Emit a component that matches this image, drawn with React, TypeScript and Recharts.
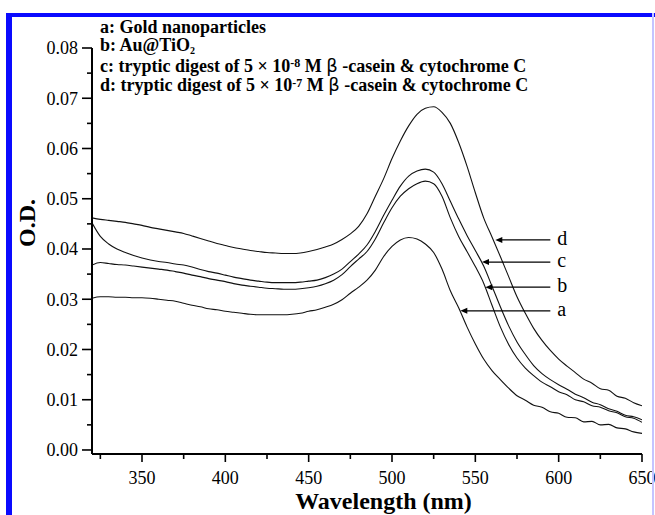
import React from 'react'
import { LineChart, Line, XAxis, YAxis, ReferenceLine } from 'recharts'

// wavelength grid (nm)
const wavelengths = [
  320, 325, 330, 335, 340, 345, 350, 355, 360, 365, 370, 375, 380, 385, 390, 395,
  400, 405, 410, 415, 420, 425, 430, 435, 440, 445, 450, 455, 460, 465, 470, 475,
  480, 485, 490, 495, 500, 505, 510, 515, 520, 525, 530, 535, 540, 545, 550, 555,
  560, 565, 570, 575, 580, 585, 590, 595, 600, 605, 610, 615, 620, 625, 630, 635,
  640, 645, 650,
]

// a: Gold nanoparticles
const seriesA = [
  0.0302, 0.0305, 0.0305, 0.0304, 0.0304, 0.0303, 0.0303, 0.0302, 0.0300, 0.0298, 0.0296, 0.0292, 0.0288, 0.0285, 0.0281, 0.0279,
  0.0276, 0.0274, 0.0272, 0.0270, 0.0269, 0.0269, 0.0269, 0.0269, 0.0270, 0.0272, 0.0276, 0.0279, 0.0284, 0.0290, 0.0299, 0.0312,
  0.0324, 0.0338, 0.0358, 0.0385, 0.0405, 0.0418, 0.0423, 0.0420, 0.0410, 0.0393, 0.0360, 0.0317, 0.0283, 0.0245, 0.0211, 0.0181,
  0.0158, 0.0140, 0.0123, 0.0108, 0.0099, 0.0089, 0.0085, 0.0076, 0.0073, 0.0065, 0.0064, 0.0056, 0.0057, 0.0050, 0.0051, 0.0044,
  0.0042, 0.0036, 0.0033,
]

// b: Au@TiO2
const seriesB = [
  0.0368, 0.0373, 0.0371, 0.0369, 0.0368, 0.0366, 0.0364, 0.0362, 0.0360, 0.0358, 0.0355, 0.0352, 0.0348, 0.0345, 0.0341, 0.0338,
  0.0335, 0.0331, 0.0328, 0.0326, 0.0324, 0.0322, 0.0321, 0.0320, 0.0320, 0.0321, 0.0323, 0.0326, 0.0331, 0.0338, 0.0349, 0.0365,
  0.0380, 0.0395, 0.0420, 0.0452, 0.0482, 0.0505, 0.0520, 0.0530, 0.0535, 0.0530, 0.0505, 0.0462, 0.0425, 0.0395, 0.0365, 0.0332,
  0.0288, 0.0245, 0.0210, 0.0183, 0.0163, 0.0148, 0.0135, 0.0126, 0.0116, 0.0110, 0.0100, 0.0096, 0.0088, 0.0085, 0.0078, 0.0074,
  0.0066, 0.0063, 0.0055,
]

// c: 5e-8 M digest
const seriesC = [
  0.0452, 0.0425, 0.0410, 0.0400, 0.0393, 0.0387, 0.0382, 0.0378, 0.0375, 0.0373, 0.0370, 0.0368, 0.0364, 0.0359, 0.0355, 0.0352,
  0.0348, 0.0344, 0.0341, 0.0338, 0.0336, 0.0334, 0.0333, 0.0333, 0.0333, 0.0334, 0.0336, 0.0338, 0.0343, 0.0350, 0.0360, 0.0375,
  0.0390, 0.0408, 0.0435, 0.0467, 0.0497, 0.0525, 0.0545, 0.0555, 0.0559, 0.0553, 0.0530, 0.0495, 0.0460, 0.0427, 0.0397, 0.0366,
  0.0326, 0.0285, 0.0247, 0.0215, 0.0190, 0.0168, 0.0152, 0.0140, 0.0130, 0.0121, 0.0111, 0.0104, 0.0095, 0.0090, 0.0082, 0.0077,
  0.0069, 0.0066, 0.0060,
]

// d: 5e-7 M digest
const seriesD = [
  0.0462, 0.0459, 0.0457, 0.0455, 0.0453, 0.0450, 0.0447, 0.0443, 0.0440, 0.0437, 0.0434, 0.0431, 0.0426, 0.0421, 0.0416, 0.0411,
  0.0407, 0.0403, 0.0400, 0.0397, 0.0395, 0.0393, 0.0392, 0.0391, 0.0391, 0.0392, 0.0395, 0.0399, 0.0404, 0.0410, 0.0419, 0.0430,
  0.0445, 0.0470, 0.0505, 0.0540, 0.0580, 0.0615, 0.0645, 0.0668, 0.0680, 0.0683, 0.0672, 0.0650, 0.0612, 0.0565, 0.0512, 0.0462,
  0.0424, 0.0385, 0.0345, 0.0305, 0.0272, 0.0242, 0.0218, 0.0198, 0.0181, 0.0167, 0.0154, 0.0141, 0.0133, 0.0122, 0.0119, 0.0107,
  0.0103, 0.0094, 0.0088,
]

const xTicks = [325, 350, 375, 400, 425, 450, 475, 500, 525, 550, 575, 600, 625, 650]
const xLabels = [350, 400, 450, 500, 550, 600, 650]
const yTicks = [0, 0.005, 0.01, 0.015, 0.02, 0.025, 0.03, 0.035, 0.04, 0.045, 0.05, 0.055, 0.06, 0.065, 0.07, 0.075, 0.08]
const yLabels = ['0.00', '0.01', '0.02', '0.03', '0.04', '0.05', '0.06', '0.07', '0.08']

// arrow annotations: label, tip wavelength, level
const arrowNames = ['a', 'b', 'c', 'd']
const arrowTipX = [541, 556, 554, 562]
const arrowLevel = [0.0277, 0.0324, 0.0374, 0.0418]
const arrowTailX = 595

const data = wavelengths.map((wl, i) => ({
  wl,
  a: seriesA[i],
  b: seriesB[i],
  c: seriesC[i],
  d: seriesD[i],
}))

const SERIF = '"Liberation Serif", "Times New Roman", serif'

const XTick = (props: any) => {
  const { x, y, payload } = props
  const major = xLabels.includes(payload.value)
  return (
    <g>
      <line x1={x} x2={x} y1={y} y2={y + (major ? 8 : 5)} stroke="#000" strokeWidth={1.6} />
      {major && (
        <text x={x} y={y + 30} textAnchor="middle" fontFamily={SERIF} fontSize={18} fill="#000">
          {payload.value}
        </text>
      )}
    </g>
  )
}

const YTick = (props: any) => {
  const { x, y, index } = props
  const major = index % 2 === 0
  return (
    <g>
      <line x1={x - (major ? 10 : 5)} x2={x} y1={y} y2={y} stroke="#000" strokeWidth={1.6} />
      {major && (
        <text x={x - 14} y={y} dy="0.35em" textAnchor="end" fontFamily={SERIF} fontSize={18} fill="#000">
          {yLabels[index / 2]}
        </text>
      )}
    </g>
  )
}

const arrowShape = (name: string) => (props: any) => {
  const { x1, y1, x2 } = props
  const left = Math.min(x1, x2)
  const right = Math.max(x1, x2)
  return (
    <g>
      <line x1={left + 5} x2={right} y1={y1} y2={y1} stroke="#000" strokeWidth={1.2} />
      <polygon points={`${left},${y1} ${left + 7},${y1 - 3} ${left + 7},${y1 + 3}`} fill="#000" />
      <text x={right + 7} y={y1 + 5} fontFamily={SERIF} fontSize={20} fill="#000">
        {name}
      </text>
    </g>
  )
}

export default function App() {
  return (
    <div style={{ position: 'absolute', left: 0, top: 0, width: 655, height: 515, background: '#fff' }}>
      <LineChart width={655} height={515} data={data} margin={{ top: 48, right: 13, bottom: 21, left: 32 }}>
        <XAxis
          dataKey="wl"
          type="number"
          domain={[320, 650]}
          allowDataOverflow
          ticks={xTicks}
          interval={0}
          tickSize={0}
          tickMargin={0}
          height={40}
          tick={<XTick />}
          axisLine={{ stroke: '#000', strokeWidth: 2 }}
        />
        <YAxis
          type="number"
          domain={[-0.0008, 0.08]}
          allowDataOverflow
          ticks={yTicks}
          interval={0}
          tickSize={0}
          tickMargin={0}
          width={60}
          tick={<YTick />}
          axisLine={{ stroke: '#000', strokeWidth: 2 }}
        />
        {['a', 'b', 'c', 'd'].map((k) => (
          <Line
            key={k}
            dataKey={k}
            type="monotone"
            stroke="#111"
            strokeWidth={1.1}
            dot={false}
            isAnimationActive={false}
          />
        ))}
        {arrowNames.map((n, i) => (
          <ReferenceLine
            key={n}
            segment={[
              { x: arrowTipX[i], y: arrowLevel[i] },
              { x: arrowTailX, y: arrowLevel[i] },
            ]}
            shape={arrowShape(n)}
          />
        ))}
      </LineChart>

      <svg
        width={655}
        height={515}
        style={{ position: 'absolute', left: 0, top: 0, pointerEvents: 'none', whiteSpace: 'pre' }}
      >
        <g fontFamily={SERIF} fontWeight="bold" fontSize={18} fill="#000">
          <text x={100} y={32.5}>a: Gold nanoparticles</text>
          <text x={100} y={51}>
            b: Au@TiO<tspan dy={3} fontSize={10}>2</tspan>
          </text>
          <text x={100} y={71.5}>
            c: tryptic digest of 5 × 10<tspan dy={-4.5} fontSize={12}>-8</tspan>
            <tspan dy={4.5}> M </tspan>
            <tspan fontFamily='"DejaVu Sans", sans-serif' fontWeight="normal">β</tspan>
            <tspan>  -casein &amp; cytochrome C</tspan>
          </text>
          <text x={100} y={91}>
            d: tryptic digest of 5 × 10<tspan dy={-4.5} fontSize={12}>-7</tspan>
            <tspan dy={4.5}> M </tspan>
            <tspan fontFamily='"DejaVu Sans", sans-serif' fontWeight="normal">β</tspan>
            <tspan>  -casein &amp; cytochrome C</tspan>
          </text>
          <text x={383.5} y={509} textAnchor="middle" fontSize={24}>
            Wavelength (nm)
          </text>
          <text transform="translate(35,223) rotate(-90)" textAnchor="middle" fontSize={24}>
            O.D.
          </text>
        </g>
      </svg>

      {/* blue frame */}
      <div style={{ position: 'absolute', left: 6, top: 13, width: 649, height: 4, background: '#0a0aff' }} />
      <div style={{ position: 'absolute', left: 6, top: 13, width: 6, height: 502, background: '#0a0aff' }} />
      <div style={{ position: 'absolute', left: 652, top: 13, width: 2, height: 502, background: '#c4c4ff' }} />
    </div>
  )
}
